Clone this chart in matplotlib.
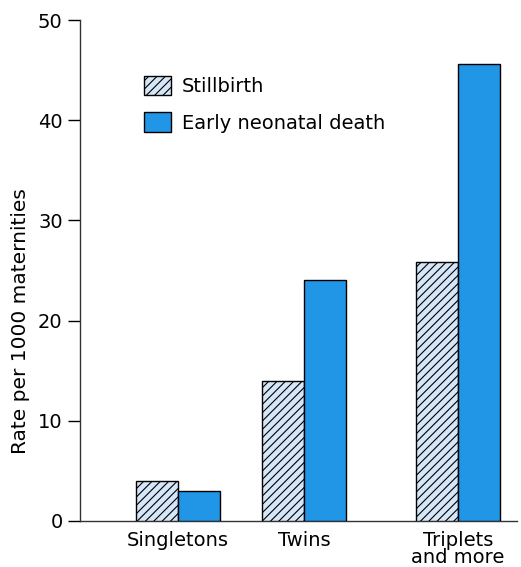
import matplotlib.pyplot as plt
import numpy as np

plt.rcParams['font.family'] = ['DejaVu Sans']
plt.rcParams['hatch.linewidth'] = 0.8

categories = ["Singletons", "Twins", "Triplets\nand more"]
stillbirth = [4.0, 14.0, 25.8]
neonatal = [3.0, 24.1, 45.6]

STILL_FILL = "#d4e6f7"
NEO_FILL = "#2196e6"

fig = plt.figure(figsize=(5.21, 5.67), dpi=100)
ax = fig.add_axes([80 / 521, 46 / 567, 437 / 521, 501 / 567])

# group centres in axis pixel units (axis spans 0..437)
centres = np.array([98, 224, 378])
w = 42

ax.bar(centres - w / 2, stillbirth, width=w, color=STILL_FILL, edgecolor="black",
       hatch="////", linewidth=1.0, label="Stillbirth", zorder=3)
ax.bar(centres + w / 2, neonatal, width=w, color=NEO_FILL, edgecolor="black",
       linewidth=1.0, label="Early neonatal death", zorder=3)

ax.set_xlim(0, 437)
ax.set_ylim(0, 50)
ax.set_yticks([0, 10, 20, 30, 40, 50])
ax.set_xticks(centres)
ax.set_xticklabels(categories, fontsize=14, linespacing=0.88)
ax.tick_params(axis="x", length=0, pad=7)
ax.tick_params(axis="y", length=8.5, width=1.0, labelsize=14, pad=4)
for side in ("top", "right"):
    ax.spines[side].set_visible(False)
for side in ("left", "bottom"):
    ax.spines[side].set_linewidth(1.0)
    ax.spines[side].set_color("#333333")

ax.set_ylabel("Rate per 1000 maternities", fontsize=14.5)
ax.yaxis.set_label_coords(-0.115, 0.40)

ax.legend(loc="upper left", bbox_to_anchor=(0.146, 0.889), frameon=False,
          fontsize=14, handlelength=1.4, handleheight=1.15, labelspacing=0.85,
          handletextpad=0.55, borderpad=0, borderaxespad=0)

fig.savefig("out.png", dpi=100, facecolor="white")
